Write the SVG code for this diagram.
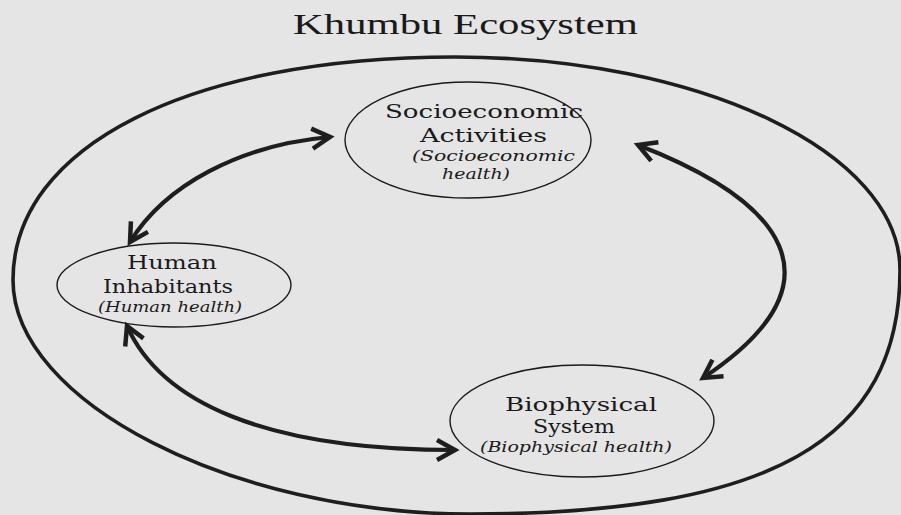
<svg xmlns="http://www.w3.org/2000/svg" width="901" height="515" viewBox="0 0 901 515">
<style>
.node ellipse{fill:none;stroke:#1a1a1a;stroke-width:1.4}
.lbl{font-family:"DejaVu Serif","Liberation Serif",serif;font-size:19px;fill:#1a1a1a}
.it{font-family:"DejaVu Serif","Liberation Serif",serif;font-size:14.5px;font-style:italic;fill:#1a1a1a}
.title{font-family:"Liberation Serif","Times New Roman",serif;font-size:30px;fill:#1a1a1a}
.conn path{fill:none;stroke:#1e1e1e;stroke-width:4.2;stroke-linecap:butt}
</style>
<defs>
<marker id="head" markerUnits="userSpaceOnUse" orient="auto-start-reverse" markerWidth="40" markerHeight="40" viewBox="-30 -20 40 40" refX="0" refY="0" overflow="visible">
<path d="M-18,-10 L0,0 L-18,10" fill="none" stroke="#1e1e1e" stroke-width="4.5" stroke-linejoin="miter" stroke-miterlimit="10"/>
</marker>
</defs>
<rect x="0" y="0" width="901" height="515" fill="#e5e5e5"/>
<text class="title" x="293" y="34" textLength="345" lengthAdjust="spacingAndGlyphs">Khumbu Ecosystem</text>
<g id="ecosystem-boundary">
<path d="M455,57 C700.6,57 900,152.4 900,270 C900,440.8 771,514 470,514 C232.4,514 13,401.7 13,280 C13,146.2 189.8,57 455,57 Z" fill="none" stroke="#1e1e1e" stroke-width="3.6"/>
</g>
<g id="socioeconomic" class="node">
<ellipse cx="468" cy="140" rx="123" ry="58"/>
<text class="lbl" x="385" y="118" textLength="198" lengthAdjust="spacingAndGlyphs">Socioeconomic</text>
<text class="lbl" x="420" y="142" textLength="127" lengthAdjust="spacingAndGlyphs">Activities</text>
<text class="it" x="412" y="161" textLength="163" lengthAdjust="spacingAndGlyphs">(Socioeconomic</text>
<text class="it" x="442" y="179" textLength="68" lengthAdjust="spacingAndGlyphs">health)</text>
</g>
<g id="human" class="node">
<ellipse cx="174" cy="285" rx="117" ry="42"/>
<text class="lbl" x="127" y="269" textLength="90" lengthAdjust="spacingAndGlyphs">Human</text>
<text class="lbl" x="103" y="293" textLength="130" lengthAdjust="spacingAndGlyphs">Inhabitants</text>
<text class="it" x="98" y="312" textLength="144" lengthAdjust="spacingAndGlyphs">(Human health)</text>
</g>
<g id="biophysical" class="node">
<ellipse cx="582" cy="421" rx="132" ry="56"/>
<text class="lbl" x="505" y="411" textLength="152" lengthAdjust="spacingAndGlyphs">Biophysical</text>
<text class="lbl" x="533" y="433" textLength="82" lengthAdjust="spacingAndGlyphs">System</text>
<text class="it" x="480" y="452" textLength="192" lengthAdjust="spacingAndGlyphs">(Biophysical health)</text>
</g>
<g id="connectors" class="conn">
<path d="M130,242 C165,185 240,145 330,137" marker-start="url(#head)" marker-end="url(#head)"/>
<path d="M127,326 C160,400 260,450 455,450" marker-start="url(#head)" marker-end="url(#head)"/>
<path d="M638,145 C780,200 850,280 703,378" marker-start="url(#head)" marker-end="url(#head)"/>
</g>
</svg>
